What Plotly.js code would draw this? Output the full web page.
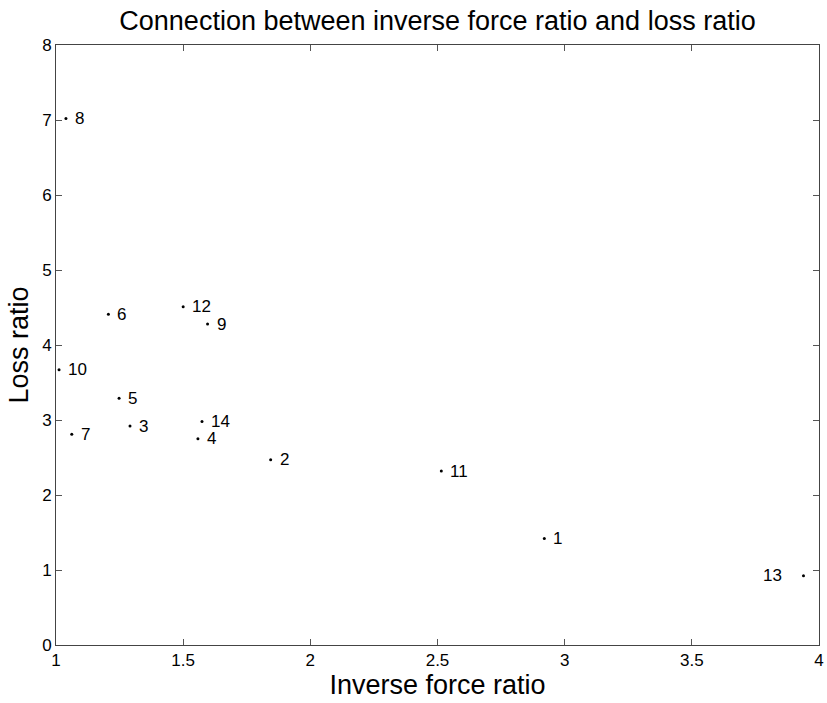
<!DOCTYPE html>
<html>
<head>
<meta charset="utf-8">
<script src="https://cdn.plot.ly/plotly-3.0.1.min.js"></script>
<style>html,body{margin:0;padding:0;background:#fff;}#chart{width:827px;height:703px;}</style>
</head>
<body>
<div id="chart"></div>
<script>
const labels = ["1","2","3","4","5","6","7","8","9","10","11","12","13","14"];
const inverseForceRatio = [2.92, 1.844, 1.291, 1.558, 1.248, 1.206, 1.062, 1.039, 1.596, 1.012, 2.515, 1.50, 3.939, 1.574];
const lossRatio = [1.42, 2.47, 2.92, 2.75, 3.29, 4.41, 2.81, 7.02, 4.28, 3.67, 2.32, 4.51, 0.924, 2.98];
const leftLabels = ["13"];
const xTicks = [1, 1.5, 2, 2.5, 3, 3.5, 4];
const xTickText = ['1', '1.5', '2', '2.5', '3', '3.5', '4'];
const yTicks = [0, 1, 2, 3, 4, 5, 6, 7, 8];

const fontFam = "Liberation Sans, Arial, sans-serif";
const annotations = labels.map((t, i) => {
  const left = leftLabels.includes(t);
  return {
    x: inverseForceRatio[i], y: lossRatio[i], xref: 'x', yref: 'y',
    text: t, showarrow: false,
    xanchor: left ? 'right' : 'left',
    xshift: left ? -19 : 7,
    yshift: 0,
    font: {family: fontFam, size: 17, color: '#000'}
  };
});

const trace = {
  x: inverseForceRatio, y: lossRatio, mode: 'markers', type: 'scatter',
  marker: {size: 3, color: '#000'}, hoverinfo: 'none'
};

const axisCommon = {
  showgrid: false, zeroline: false, showline: true, mirror: 'ticks',
  linecolor: '#444', linewidth: 1, ticks: 'inside', ticklen: 6, tickcolor: '#555',
  tickfont: {family: fontFam, size: 17, color: '#000'}
};

const layout = {
  width: 827, height: 703,
  margin: {l: 56, r: 8, t: 45, b: 58},
  paper_bgcolor: '#fff', plot_bgcolor: '#fff',
  showlegend: false,
  title: {text: 'Connection between inverse force ratio and loss ratio', xref: 'paper', x: 0.5, xanchor: 'center',
          yref: 'container', y: 0.971, yanchor: 'middle',
          font: {family: fontFam, size: 27, color: '#000'}},
  xaxis: Object.assign({}, axisCommon, {range: [1, 4], tickvals: xTicks, ticktext: xTickText,
          title: {text: 'Inverse force ratio', font: {family: fontFam, size: 27, color: '#000'}, standoff: 3}}),
  yaxis: Object.assign({}, axisCommon, {range: [0, 8], tickvals: yTicks,
          title: {text: 'Loss ratio', font: {family: fontFam, size: 27, color: '#000'}, standoff: 5}}),
  annotations: annotations
};

Plotly.newPlot('chart', [trace], layout, {staticPlot: true, displayModeBar: false});
</script>
</body>
</html>
